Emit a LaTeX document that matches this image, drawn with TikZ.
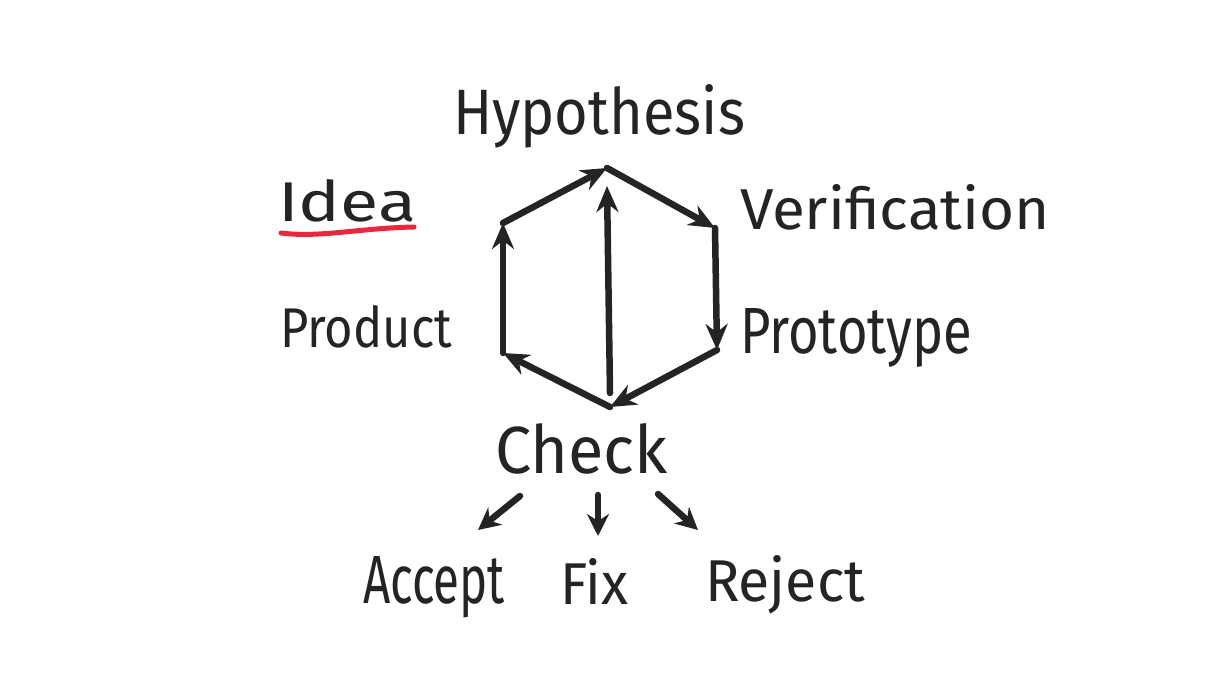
\documentclass[tikz,border=0pt]{standalone}
\usepackage{fontspec}
\setmainfont{Fira Sans}
\usetikzlibrary{arrows.meta}
\definecolor{ink}{HTML}{242424}
\definecolor{hilite}{HTML}{E8283C}
\newcommand{\fit}[3]{\resizebox{#1pt}{#2pt}{#3}}
\begin{document}
\begin{tikzpicture}[x=1pt,y=-1pt,
  edge/.style={line width=6.5pt, draw=ink, line cap=round, line join=round, -{Stealth[length=26pt,width=22pt]}},
  small/.style={line width=6.5pt, draw=ink, line cap=round, -{Stealth[length=22pt,width=22pt]}},
  lbl/.style={inner sep=0pt, outer sep=0pt, text=ink, anchor=base west}]
\useasboundingbox[fill=white] (0,0) rectangle (1226,692);
% hexagon corners
\coordinate (T)  at (607,168);
\coordinate (UR) at (715,228);
\coordinate (LR) at (717,350);
\coordinate (B)  at (610,407);
\coordinate (LL) at (503,353);
\coordinate (UL) at (503,223);
\coordinate (Bm) at (610,393);
\coordinate (Tm) at (607,186);
\draw[edge] (T) -- (UR);
\draw[edge] (UR) -- (LR);
\draw[edge] (LR) -- (B);
\draw[edge] (B) -- (LL);
\draw[edge] (LL) -- (UL);
\draw[edge] (UL) -- (T);
\draw[edge] (Bm) -- (Tm);
% labels
\node[lbl] (hyp) at (453,135) {\fit{292}{50}{Hypothesis}};
\node[lbl] (idea) at (278,222) {\fit{138}{42}{Idea}};
\node[lbl] (ver) at (740,230) {\fit{310}{45}{Verification}};
\node[lbl] (prod) at (280,348) {\fit{172}{42}{Product}};
\node[lbl] (proto) at (740,353) {\fit{232}{45}{Prototype}};
\node[lbl] (check) at (495,473) {\fit{173}{50}{Check}};
\node[lbl] (acc) at (363,603) {\fit{142}{47}{Accept}};
\node[lbl] (fix) at (560,604) {\fit{68}{46}{Fix}};
\node[lbl] (rej) at (705,601) {\fit{160}{46}{Reject}};
% underline
\coordinate (u1) at (281,233);
\coordinate (u2) at (414,227);
\draw[hilite, line width=5pt, line cap=round] (u1) .. controls (320,238) and (360,228) .. (u2);
% lower arrows
\coordinate (a1) at (520,496);
\coordinate (a2) at (478,530);
\coordinate (f1) at (598,495);
\coordinate (f2) at (598,536);
\coordinate (r1) at (658,494);
\coordinate (r2) at (698,530);
\draw[small] (a1) -- (a2);
\draw[small] (f1) -- (f2);
\draw[small] (r1) -- (r2);
\end{tikzpicture}
\end{document}
